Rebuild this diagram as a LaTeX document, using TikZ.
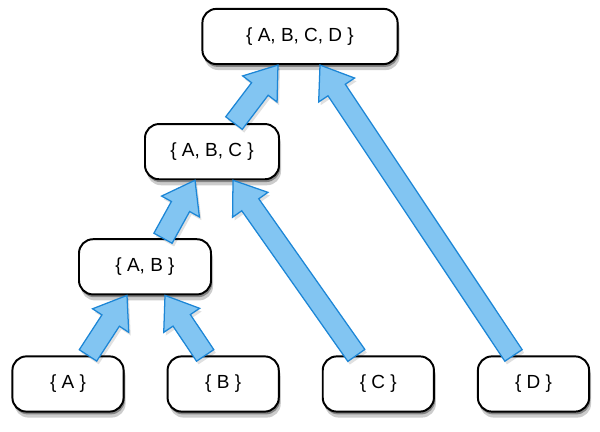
\documentclass[tikz,border=0pt]{standalone}
\usepackage{fontspec}
\setmainfont{Liberation Sans}
\usepackage{tikz}
\usetikzlibrary{positioning,calc,shadows}
\definecolor{arrowfill}{RGB}{130,197,242}
\definecolor{arrowline}{RGB}{28,134,214}

% fat block arrow from tail (#1) to tip (#2)
\newcommand{\fatarrow}[2]{%
  \coordinate (fa0) at (#1);
  \coordinate (fa1) at (#2);
  \coordinate (fah) at ($(fa1)!0.75cm!(fa0)$);
  \draw[fat] ($(fa0)!0.26cm!90:(fa1)$) -- ($(fah)!0.26cm!90:(fa1)$) -- ($(fah)!0.54cm!90:(fa1)$)
    -- (fa1) -- ($(fah)!0.54cm!-90:(fa1)$) -- ($(fah)!0.26cm!-90:(fa1)$) -- ($(fa0)!0.26cm!-90:(fa1)$) -- cycle;
}

\begin{document}
\begin{tikzpicture}[font=\fontsize{13.5}{16}\selectfont,
  set/.style={draw,line width=1.4pt,rounded corners=0.35cm,fill=white,minimum height=1.38cm,align=center,
    drop shadow={shadow xshift=0.03cm,shadow yshift=-0.07cm,opacity=0.35,fill=black},
    drop shadow={shadow xshift=0.05cm,shadow yshift=-0.15cm,opacity=0.2,fill=black}},
  leaf/.style={set,minimum width=2.78cm},
  fat/.style={draw=arrowline,fill=arrowfill,line width=0.9pt,line join=miter,
    drop shadow={shadow xshift=0.05cm,shadow yshift=-0.08cm,opacity=0.12,fill=black}}
]
  \useasboundingbox (0,0) rectangle (15,10.8);
  \node[leaf] (a) at (1.7,1.2) {\{ A \}};
  \node[leaf, right=1.05cm of a] (b) {\{ B \}};
  \node[leaf, right=1.05cm of b] (c) {\{ C \}};
  \node[leaf, right=1.05cm of c] (d) {\{ D \}};
  \node[set, minimum width=3.3cm, above=1.5cm of a, xshift=1.925cm] (ab) {\{ A, B \}};
  \node[set, minimum width=3.35cm, above=1.45cm of ab, xshift=1.675cm] (abc) {\{ A, B, C \}};
  \node[set, minimum width=4.88cm, above=1.45cm of abc, xshift=2.2cm] (abcd) {\{ A, B, C, D \}};
  \fatarrow{$(a.north)+(0.5,0)$}{$(ab.south)+(-0.45,0)$}
  \fatarrow{$(b.north)+(-0.45,0)$}{$(ab.south)+(0.5,0)$}
  \fatarrow{$(ab.north)+(0.45,0)$}{$(abc.south)+(-0.425,0)$}
  \fatarrow{$(c.north)+(-0.55,0)$}{$(abc.south)+(0.525,0)$}
  \fatarrow{$(abc.north)+(0.55,0)$}{$(abcd.south)+(-0.55,0)$}
  \fatarrow{$(d.north)+(-0.5,0)$}{$(abcd.south)+(0.5,0)$}
\end{tikzpicture}
\end{document}
